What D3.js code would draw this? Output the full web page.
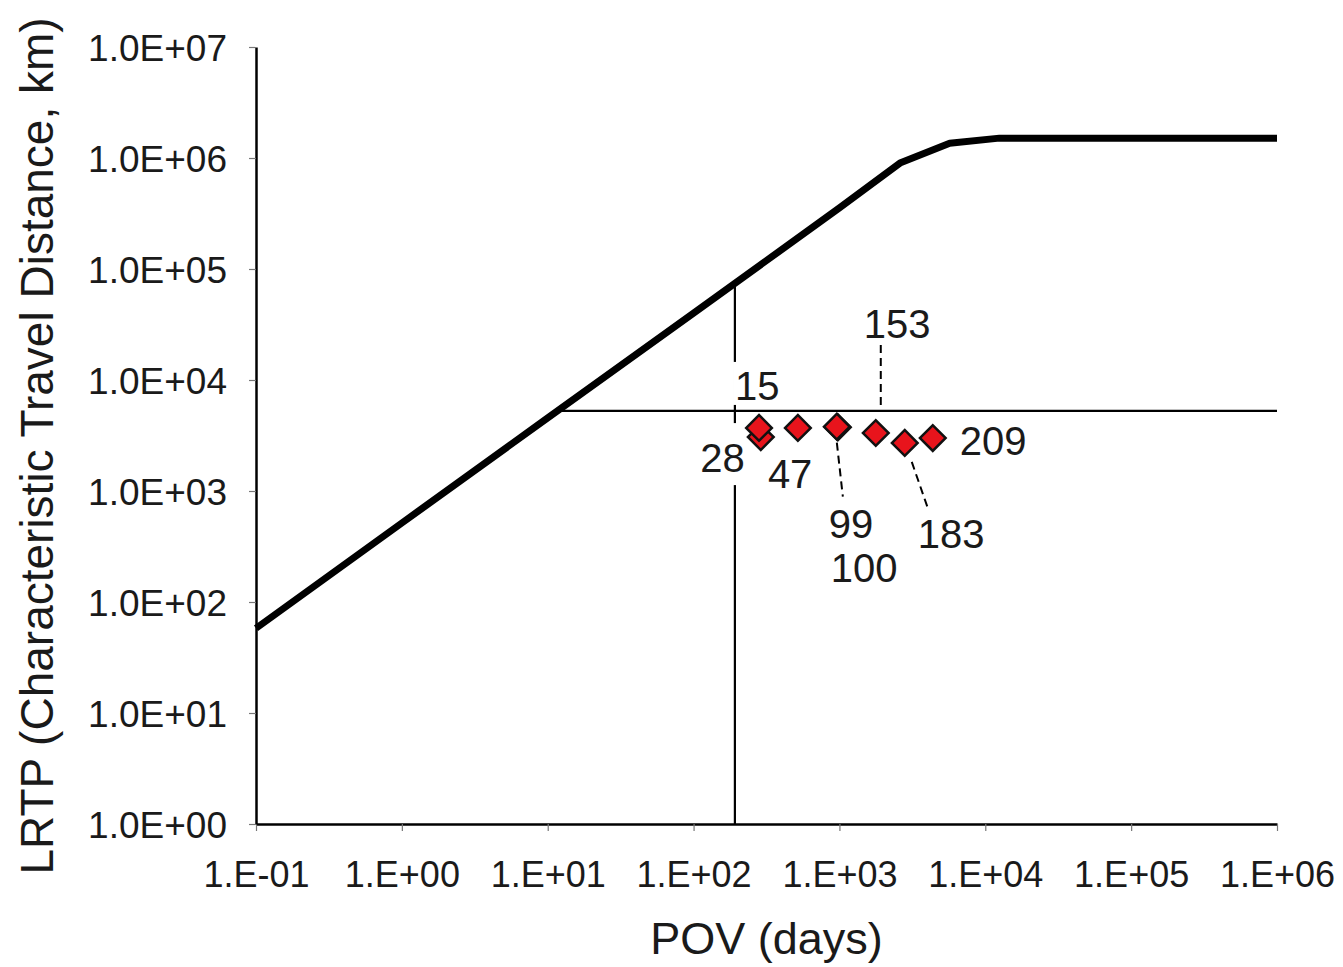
<!DOCTYPE html>
<html>
<head>
<meta charset="utf-8">
<script src="https://cdn.jsdelivr.net/npm/d3@7"></script>
<style>
  html, body { margin: 0; padding: 0; background: #fff; }
  svg { display: block; font-family: "Liberation Sans", Arial, sans-serif; }
</style>
</head>
<body>
<div class="chart"></div>
<script>
// model curve: POV (days) vs LRTP (km)
const curvePov  = [0.1, 1, 10, 100, 1000, 2600, 5700, 12500, 1e6];
const curveLrtp = [58, 515, 4550, 4.0e4, 3.55e5, 9.0e5, 1.36e6, 1.51e6, 1.51e6];

// chemicals (numbered)
const pointLabels = ["15", "28", "47", "99", "100", "153", "183", "209"];
const pointPov    = [281, 289, 519, 960, 975, 1775, 2805, 4365];
const pointLrtp   = [3700, 3060, 3700, 3800, 3750, 3330, 2710, 3000];

// reference lines
const refPov  = 192;
const refLrtp = 5260;

const xTicks = [0.1, 1, 10, 100, 1e3, 1e4, 1e5, 1e6];
const yTicks = [1, 10, 100, 1e3, 1e4, 1e5, 1e6, 1e7];

// label placement relative to each point (pixels)
const labelOffsets = {
    "15":  {dx: -24, dy: -28, anchor: "start", bg: [10, 5]},
    "28":  {dx: -16, dy: 35,  anchor: "end",   bg: [21, 13]},
    "47":  {dx: -30, dy: 60,  anchor: "start"},
    "99":  {dx: -8,  dy: 111, anchor: "start"},
    "100": {dx: -7,  dy: 155, anchor: "start"},
    "153": {dx: -12, dy: -95, anchor: "start"},
    "183": {dx: 13,  dy: 105, anchor: "start"},
    "209": {dx: 27,  dy: 17,  anchor: "start"}
};
// dashed leader lines: [label, x1, y1, x2, y2] offsets from point
const leaders = [
    ["153", 5, -88, 5, -22],
    ["99", 0, 16, 6, 70],
    ["183", 7, 19, 23, 65]
];

const Margin = {top: 47, right: 66, bottom: 143, left: 256},
    Width = 1343 - Margin.left - Margin.right,
    Height = 967 - Margin.top - Margin.bottom;

const svg = d3.select(".chart")
    .append("svg")
    .attr("width", 1343)
    .attr("height", 967)
    .append("g")
    .attr("transform", "translate(" + Margin.left + "," + Margin.top + ")");

const x = d3.scaleLog().domain([0.1, 1e6]).range([0, Width]);
const y = d3.scaleLog().domain([1, 1e7]).range([Height, 0]);

const pad2 = n => (n < 0 ? "-" : "+") + String(Math.abs(n)).padStart(2, "0");
const ink = "#1a1a1a";

// axes
const xAxis = svg.append("g")
    .attr("transform", "translate(0," + Height + ")")
    .call(d3.axisBottom(x).tickValues(xTicks).tickSizeInner(7).tickSizeOuter(0)
        .tickPadding(30)
        .tickFormat(d => "1.E" + pad2(Math.round(Math.log10(d)))));
const yAxis = svg.append("g")
    .call(d3.axisLeft(y).tickValues(yTicks).tickSizeInner(7).tickSizeOuter(0)
        .tickPadding(22)
        .tickFormat(d => "1.0E" + pad2(Math.round(Math.log10(d)))));

[xAxis, yAxis].forEach(a => {
    a.select(".domain").attr("stroke", "#000").attr("stroke-width", 2.5);
    a.selectAll(".tick line").attr("stroke", "#777").attr("stroke-width", 1.2);
    a.selectAll(".tick text").attr("fill", ink).style("font-size", "36px");
});
yAxis.selectAll(".tick text").attr("dy", "0.36em").style("font-size", "37px");

// axis titles
svg.append("text")
    .attr("x", Width / 2 - 0)
    .attr("y", Height + 130)
    .attr("text-anchor", "middle")
    .attr("fill", ink)
    .style("font-size", "45px")
    .text("POV (days)");

svg.append("text")
    .attr("transform", "translate(" + (53 - Margin.left) + "," + (446 - Margin.top) + ") rotate(-90)")
    .attr("text-anchor", "middle")
    .attr("fill", ink)
    .style("font-size", "46px")
    .text("LRTP (Characteristic Travel Distance, km)");

// interpolate curve in log-log space
function curveAt(pov) {
    const lx = Math.log10(pov);
    for (let i = 1; i < curvePov.length; i++) {
        const a = Math.log10(curvePov[i - 1]), b = Math.log10(curvePov[i]);
        if (lx <= b) {
            const t = (lx - a) / (b - a);
            return Math.pow(10, Math.log10(curveLrtp[i - 1]) + t * (Math.log10(curveLrtp[i]) - Math.log10(curveLrtp[i - 1])));
        }
    }
    return curveLrtp[curveLrtp.length - 1];
}
function curveInverse(lrtp) {
    const ly = Math.log10(lrtp);
    for (let i = 1; i < curveLrtp.length; i++) {
        const a = Math.log10(curveLrtp[i - 1]), b = Math.log10(curveLrtp[i]);
        if (ly <= b) {
            const t = (ly - a) / (b - a);
            return Math.pow(10, Math.log10(curvePov[i - 1]) + t * (Math.log10(curvePov[i]) - Math.log10(curvePov[i - 1])));
        }
    }
    return curvePov[curvePov.length - 1];
}

// reference lines
svg.append("line")
    .attr("x1", x(refPov)).attr("x2", x(refPov))
    .attr("y1", y(curveAt(refPov))).attr("y2", y(1))
    .attr("stroke", "#000").attr("stroke-width", 2.2);
svg.append("line")
    .attr("x1", x(curveInverse(refLrtp))).attr("x2", x(1e6))
    .attr("y1", y(refLrtp)).attr("y2", y(refLrtp))
    .attr("stroke", "#000").attr("stroke-width", 2.2);

// main curve
const curveData = curvePov.map((p, i) => ({pov: p, lrtp: curveLrtp[i]}));
svg.append("path")
    .datum(curveData)
    .attr("fill", "none")
    .attr("stroke", "#000")
    .attr("stroke-width", 7)
    .attr("stroke-linejoin", "round")
    .attr("d", d3.line().x(d => x(d.pov)).y(d => y(d.lrtp)));

const points = pointLabels.map((l, i) => ({label: l, pov: pointPov[i], lrtp: pointLrtp[i]}));
const byLabel = {};
points.forEach(p => byLabel[p.label] = p);

// leader lines
leaders.forEach(([l, x1, y1, x2, y2]) => {
    const p = byLabel[l];
    svg.append("line")
        .attr("x1", x(p.pov) + x1).attr("y1", y(p.lrtp) + y1)
        .attr("x2", x(p.pov) + x2).attr("y2", y(p.lrtp) + y2)
        .attr("stroke", "#000").attr("stroke-width", 2)
        .attr("stroke-dasharray", "8,5");
});

// labels
const labels = svg.append("g");
points.forEach(p => {
    const o = labelOffsets[p.label];
    const t = labels.append("text")
        .attr("x", x(p.pov) + o.dx)
        .attr("y", y(p.lrtp) + o.dy)
        .attr("text-anchor", o.anchor)
        .attr("fill", ink)
        .style("font-size", "40px")
        .text(p.label);
    if (o.bg) {
        const b = t.node().getBBox();
        labels.insert("rect", () => t.node())
            .attr("x", b.x - 2).attr("width", b.width + 4)
            .attr("y", y(p.lrtp) + o.dy - 28 - o.bg[0])
            .attr("height", 28 + o.bg[0] + o.bg[1])
            .attr("fill", "#fff");
    }
});

// diamonds (drawn last-to-first so 15 sits over 28)
svg.append("g").selectAll("path")
    .data(points.slice().reverse())
    .join("path")
    .attr("transform", d => "translate(" + x(d.pov) + "," + y(d.lrtp) + ") rotate(45)")
    .attr("d", d3.symbol(d3.symbolSquare, 330))
    .attr("fill", "#e8141c")
    .attr("stroke", "#111")
    .attr("stroke-width", 2.5);
</script>
</body>
</html>
